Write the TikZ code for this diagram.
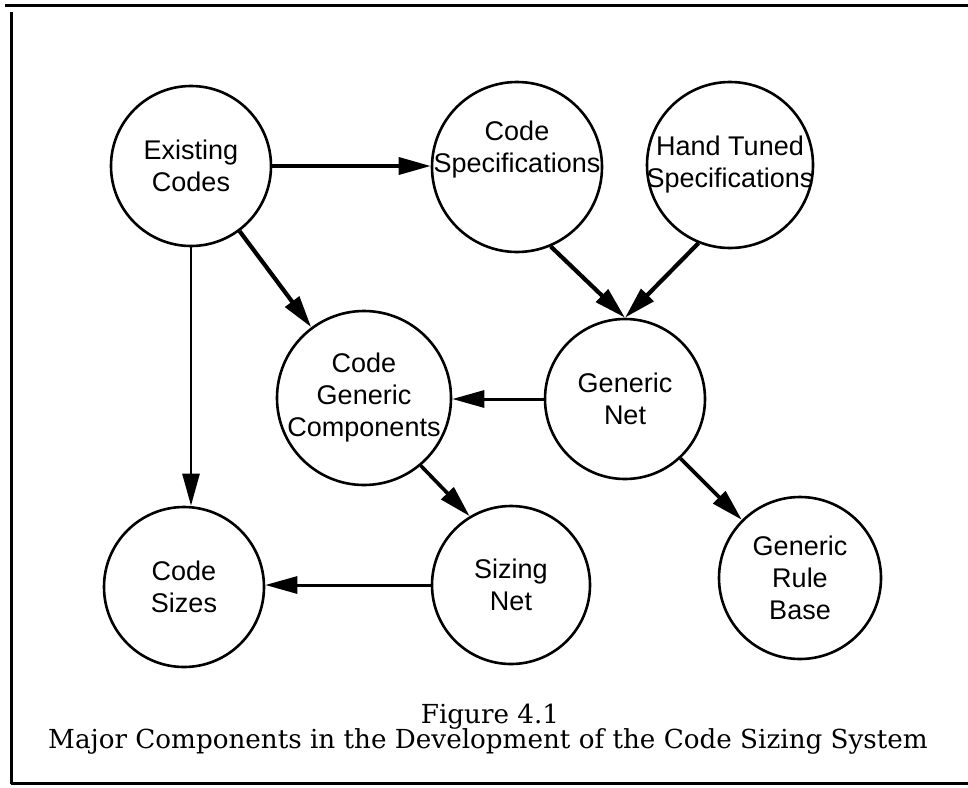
\documentclass[tikz,border=0pt]{standalone}
\usepackage{fontspec}
\setmainfont{Liberation Sans}
\newfontfamily\capfont{DejaVu Serif}
\usepackage{tikz}
\usetikzlibrary{arrows.meta}

\begin{document}
\begin{tikzpicture}[x=1pt,y=-1pt]
  \tikzstyle{blob}=[circle,draw=black,line width=2.6pt,inner sep=0pt]
  \tikzstyle{tag}=[align=center,inner sep=0pt,font=\fontsize{27}{32}\selectfont]
  \tikzstyle{flow}=[line width=3.6pt,-{Triangle[length=32pt,width=17pt]}]
  \tikzstyle{frame}=[line width=3pt]
  \tikzstyle{caption}=[anchor=base,inner sep=0pt,font=\capfont\fontsize{26.2}{26}\selectfont]
  \useasboundingbox (0,0) rectangle (968,787);
  \coordinate (tl) at (5,5);
  \coordinate (tr) at (968,5);
  \coordinate (lt) at (11,12);
  \coordinate (lb) at (11,784);
  \coordinate (br) at (968,783);
  \draw[frame] (tl) -- (tr);
  \draw[frame] (lt) -- (lb);
  \draw[frame] (lb |- br) -- (br);
  \node [blob,minimum size=160pt,label={[tag]center:Existing\\Codes}] (ex) at (191,166) {};
  \node [blob,minimum size=170pt,label={[tag,yshift=17pt]center:Code\\Specifications}] (cs) at (517,167) {};
  \node [blob,minimum size=166pt,label={[tag]center:Hand Tuned\\Specifications}] (ht) at (730,165) {};
  \node [blob,minimum size=160pt,label={[tag]center:Generic\\Net}] (gn) at (625,399) {};
  \node [blob,minimum size=174pt,label={[tag]center:Code\\Generic\\Components}] (cg) at (364,398) {};
  \node [blob,minimum size=160pt,label={[tag]center:Code\\Sizes}] (sz) at (184,587) {};
  \node [blob,minimum size=158pt,label={[tag]center:Sizing\\Net}] (sn) at (511,585) {};
  \node [blob,minimum size=162pt,label={[tag]center:Generic\\Rule\\Base}] (gr) at (800,578) {};
  \draw[flow] (ex.east) -- (ex.east -| cs.west);
  \draw[flow,line width=4.2pt] (ex) -- (cg);
  \draw[flow,line width=2.6pt] (ex.south) -- (ex.south |- sz.north);
  \draw[flow,line width=4.2pt] (cs.-67) -- (gn.north);
  \draw[flow,line width=4.2pt] (ht.-112) -- (gn.north);
  \draw[flow,line width=3pt] (gn.west) -- (gn.west -| cg.east);
  \draw[flow] (cg.-50) -- (sn.121);
  \draw[flow,line width=3pt] (sn.west) -- (sn.west -| sz.east);
  \draw[flow] (gn.-47) -- (gr.135);
  \node [caption] (fig) at (490,723) {Figure 4.1};
  \node [caption] (title) at (488,748) {Major Components in the Development of the Code Sizing System};
\end{tikzpicture}
\end{document}
